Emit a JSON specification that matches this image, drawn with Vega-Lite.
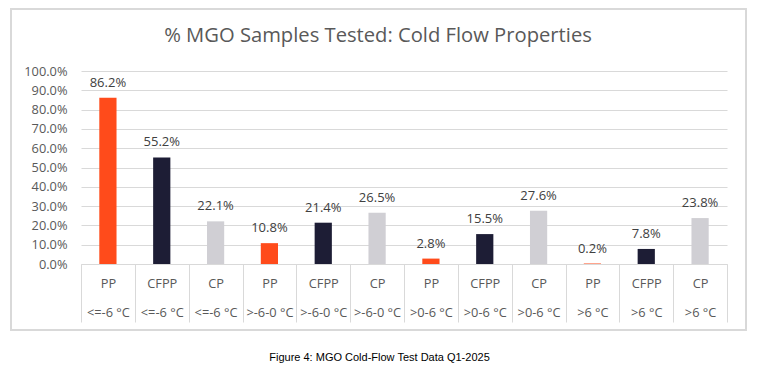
{
  "$schema": "https://vega.github.io/schema/vega-lite/v6.json",
  "width": 646,
  "height": 193,
  "autosize": "none",
  "padding": {"left": 81, "top": 71, "right": 32, "bottom": 110},
  "background": "white",
  "title": {
    "text": "% MGO Samples Tested: Cold Flow Properties",
    "font": "Open Sans",
    "fontSize": 20.2,
    "fontWeight": "normal",
    "color": "#595959",
    "anchor": "middle",
    "frame": "group",
    "baseline": "alphabetic",
    "offset": -54,
    "dx": -26
  },
  "config": {
    "view": {"stroke": null},
    "font": "Open Sans"
  },
  "data": {
    "values": [
      {"prop": "PP", "range": "<=-6 °C", "key": "PP|<=-6 °C", "value": 0.862},
      {"prop": "CFPP", "range": "<=-6 °C", "key": "CFPP|<=-6 °C", "value": 0.552},
      {"prop": "CP", "range": "<=-6 °C", "key": "CP|<=-6 °C", "value": 0.221},
      {"prop": "PP", "range": ">-6-0 °C", "key": "PP|>-6-0 °C", "value": 0.108},
      {"prop": "CFPP", "range": ">-6-0 °C", "key": "CFPP|>-6-0 °C", "value": 0.214},
      {"prop": "CP", "range": ">-6-0 °C", "key": "CP|>-6-0 °C", "value": 0.265},
      {"prop": "PP", "range": ">0-6 °C", "key": "PP|>0-6 °C", "value": 0.028},
      {"prop": "CFPP", "range": ">0-6 °C", "key": "CFPP|>0-6 °C", "value": 0.155},
      {"prop": "CP", "range": ">0-6 °C", "key": "CP|>0-6 °C", "value": 0.276},
      {"prop": "PP", "range": ">6 °C", "key": "PP|>6 °C", "value": 0.002},
      {"prop": "CFPP", "range": ">6 °C", "key": "CFPP|>6 °C", "value": 0.078},
      {"prop": "CP", "range": ">6 °C", "key": "CP|>6 °C", "value": 0.238}
    ]
  },
  "layer": [
    {
      "mark": {"type": "rect", "fill": null, "stroke": "#D9D9D9", "strokeWidth": 1.5, "clip": false},
      "encoding": {
        "x": {"datum": -0.1084, "type": "quantitative", "scale": {"domain": [0, 1], "nice": false, "zero": false}, "axis": null},
        "x2": {"datum": 1.0294},
        "y": {"datum": 1.3212, "type": "quantitative", "scale": {"domain": [0, 1], "nice": false, "zero": false}, "axis": null},
        "y2": {"datum": -0.342}
      }
    },
    {
      "encoding": {
        "x": {
          "field": "key",
          "type": "nominal",
          "sort": null,
          "scale": {"paddingInner": 0, "paddingOuter": 0},
          "axis": {
            "title": "Figure 4: MGO Cold-Flow Test Data Q1-2025",
            "titleFont": "Liberation Sans",
            "titleFontSize": 11,
            "titleFontWeight": "normal",
            "titleColor": "#000000",
            "titleX": 298,
            "titleY": 93,
            "titleBaseline": "middle",
            "titleAlign": "center",
            "labelExpr": "isString(datum.value) ? split(datum.value, '|') : ''",
            "labelAngle": 0,
            "labelFont": "Open Sans",
            "labelFontSize": 12.8,
            "labelColor": "#595959",
            "labelLineHeight": 29,
            "labelBaseline": "middle",
            "labelPadding": -39,
            "labelOverlap": false,
            "labelFlush": false,
            "labelLimit": 0,
            "labelBound": false,
            "ticks": true,
            "tickBand": "extent",
            "tickSize": 58,
            "tickColor": "#D9D9D9",
            "tickWidth": 1,
            "domain": true,
            "domainColor": "#D9D9D9",
            "grid": false
          }
        },
        "y": {
          "field": "value",
          "type": "quantitative",
          "scale": {"domain": [0, 1], "nice": false},
          "axis": {
            "title": null,
            "format": ".1%",
            "values": [0, 0.1, 0.2, 0.3, 0.4, 0.5, 0.6, 0.7, 0.8, 0.9, 1.0],
            "labelFont": "Open Sans",
            "labelFontSize": 12.8,
            "labelColor": "#595959",
            "labelPadding": 14,
            "ticks": false,
            "domain": false,
            "grid": true,
            "gridColor": "#D9D9D9",
            "gridWidth": 1
          }
        }
      },
      "layer": [
        {
          "mark": {"type": "bar", "width": {"band": 0.32}},
          "encoding": {
            "color": {
              "field": "prop",
              "type": "nominal",
              "scale": {"domain": ["PP", "CFPP", "CP"], "range": ["#FF4B1B", "#1D1D35", "#D0CFD4"]},
              "legend": null
            }
          }
        },
        {
          "mark": {"type": "text", "baseline": "bottom", "dy": -8, "fontSize": 13, "font": "Open Sans", "color": "#404040"},
          "encoding": {
            "text": {"field": "value", "type": "quantitative", "format": ".1%"}
          }
        }
      ]
    }
  ],
  "resolve": {"scale": {"x": "independent", "y": "independent"}}
}
